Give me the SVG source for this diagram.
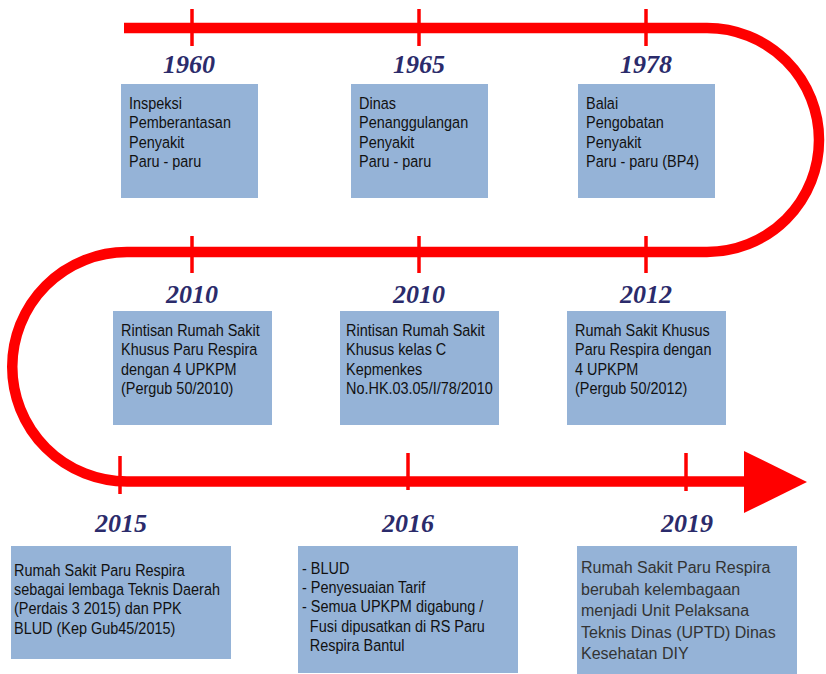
<svg xmlns="http://www.w3.org/2000/svg" width="826" height="674" viewBox="0 0 826 674">
<style>
.box{fill:#95B3D7}
.yr{font-family:"Liberation Serif",serif;font-weight:bold;font-style:italic;font-size:26px;fill:#2B2B6B;text-anchor:middle}
.t{font-family:"Liberation Sans",Arial,sans-serif;font-size:16.5px;fill:#111}
.t2{font-family:"Liberation Sans",Arial,sans-serif;font-size:16px;fill:#333}
.line{fill:none;stroke:#FF0000;stroke-width:10.5}
.tick{stroke:#FF0000;stroke-width:3.5}
</style>
<rect width="826" height="674" fill="#fff"/>
<g id="connectors">
<path class="line" d="M124,28 H707 A112,112 0 0 1 707,252 H127 A114.75,114.75 0 0 0 127,481.5 H752"/>
<polygon points="744,451 807,482 744,513" fill="#FF0000"/>
<line class="tick" x1="192" y1="9" x2="192" y2="46"/>
<line class="tick" x1="419" y1="9" x2="419" y2="46"/>
<line class="tick" x1="646" y1="9" x2="646" y2="46"/>
<line class="tick" x1="192" y1="236" x2="192" y2="273"/>
<line class="tick" x1="419" y1="236" x2="419" y2="273"/>
<line class="tick" x1="646" y1="236" x2="646" y2="273"/>
<line class="tick" x1="120" y1="456" x2="120" y2="494"/>
<line class="tick" x1="408" y1="453" x2="408" y2="490"/>
<line class="tick" x1="686" y1="453" x2="686" y2="491"/>
</g>
<g id="n1960">
<text class="yr" x="189" y="73">1960</text>
<rect class="box" x="121" y="84" width="137" height="114"/>
<text class="t" transform="translate(129,109) scale(0.875,1)"><tspan x="0" y="0">Inspeksi</tspan><tspan x="0" dy="19.5">Pemberantasan</tspan><tspan x="0" dy="19.5">Penyakit</tspan><tspan x="0" dy="19.5">Paru - paru</tspan></text>
</g>
<g id="n1965">
<text class="yr" x="419" y="73">1965</text>
<rect class="box" x="351" y="84" width="137" height="114"/>
<text class="t" transform="translate(359,109) scale(0.875,1)"><tspan x="0" y="0">Dinas</tspan><tspan x="0" dy="19.5">Penanggulangan</tspan><tspan x="0" dy="19.5">Penyakit</tspan><tspan x="0" dy="19.5">Paru - paru</tspan></text>
</g>
<g id="n1978">
<text class="yr" x="646" y="73">1978</text>
<rect class="box" x="578" y="84" width="137" height="114"/>
<text class="t" transform="translate(586,109) scale(0.875,1)"><tspan x="0" y="0">Balai</tspan><tspan x="0" dy="19.5">Pengobatan</tspan><tspan x="0" dy="19.5">Penyakit</tspan><tspan x="0" dy="19.5">Paru - paru (BP4)</tspan></text>
</g>
<g id="n2010a">
<text class="yr" x="192" y="303">2010</text>
<rect class="box" x="113" y="311" width="159" height="114"/>
<text class="t" transform="translate(121,336) scale(0.875,1)"><tspan x="0" y="0">Rintisan Rumah Sakit</tspan><tspan x="0" dy="19.5">Khusus Paru Respira</tspan><tspan x="0" dy="19.5">dengan 4 UPKPM</tspan><tspan x="0" dy="19.5">(Pergub 50/2010)</tspan></text>
</g>
<g id="n2010b">
<text class="yr" x="419" y="303">2010</text>
<rect class="box" x="340" y="311" width="159" height="114"/>
<text class="t" transform="translate(346,336) scale(0.875,1)"><tspan x="0" y="0">Rintisan Rumah Sakit</tspan><tspan x="0" dy="19.5">Khusus kelas C</tspan><tspan x="0" dy="19.5">Kepmenkes</tspan><tspan x="0" dy="19.5">No.HK.03.05/I/78/2010</tspan></text>
</g>
<g id="n2012">
<text class="yr" x="646" y="303">2012</text>
<rect class="box" x="567" y="311" width="159" height="114"/>
<text class="t" transform="translate(575,336) scale(0.875,1)"><tspan x="0" y="0">Rumah Sakit Khusus</tspan><tspan x="0" dy="19.5">Paru Respira dengan</tspan><tspan x="0" dy="19.5">4 UPKPM</tspan><tspan x="0" dy="19.5">(Pergub 50/2012)</tspan></text>
</g>
<g id="n2015">
<text class="yr" x="121" y="532">2015</text>
<rect class="box" x="11" y="546" width="220" height="113"/>
<text class="t" transform="translate(14,575.5) scale(0.875,1)"><tspan x="0" y="0">Rumah Sakit Paru Respira</tspan><tspan x="0" dy="19.5">sebagai lembaga Teknis Daerah</tspan><tspan x="0" dy="19.5">(Perdais 3 2015) dan PPK</tspan><tspan x="0" dy="19.5">BLUD (Kep Gub45/2015)</tspan></text>
</g>
<g id="n2016">
<text class="yr" x="408" y="532">2016</text>
<rect class="box" x="298" y="546" width="220" height="127"/>
<text class="t" transform="translate(302,573.5) scale(0.875,1)"><tspan x="0" y="0">- BLUD</tspan><tspan x="0" dy="19.5">- Penyesuaian Tarif</tspan><tspan x="0" dy="19.5">- Semua UPKPM digabung /</tspan><tspan x="9" dy="19.5">Fusi dipusatkan di RS Paru</tspan><tspan x="9" dy="19.5">Respira Bantul</tspan></text>
</g>
<g id="n2019">
<text class="yr" x="687" y="532">2019</text>
<rect class="box" x="577" y="546" width="220" height="128"/>
<text class="t2" x="581" y="573"><tspan x="581">Rumah Sakit Paru Respira</tspan><tspan x="581" dy="21.5">berubah kelembagaan</tspan><tspan x="581" dy="21.5">menjadi Unit Pelaksana</tspan><tspan x="581" dy="21.5">Teknis Dinas (UPTD) Dinas</tspan><tspan x="581" dy="21.5">Kesehatan DIY</tspan></text>
</g>
</svg>
